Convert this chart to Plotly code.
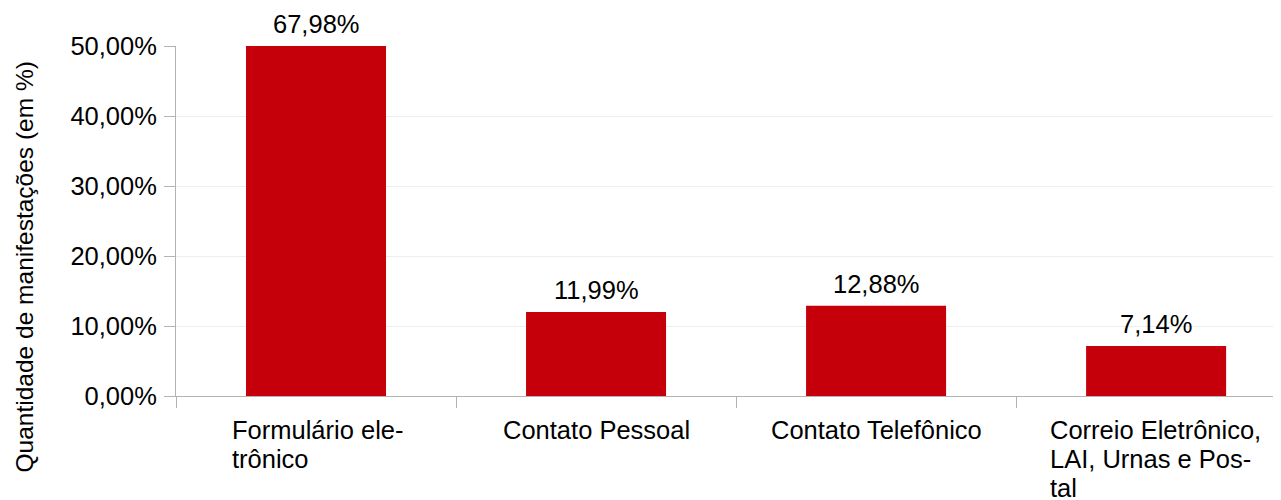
import plotly.graph_objects as go

# ---- data ----
categories = ["Formulário ele-<br>trônico", "Contato Pessoal", "Contato Telefônico",
              "Correio Eletrônico,<br>LAI, Urnas e Pos-<br>tal"]
values = [67.98, 11.99, 12.88, 7.14]
value_labels = ["67,98%", "11,99%", "12,88%", "7,14%"]
y_tickvals = [0, 10, 20, 30, 40, 50]
y_ticktext = ["0,00%", "10,00%", "20,00%", "30,00%", "40,00%", "50,00%"]
y_title = "Quantidade de manifestações (em %)"

# ---- style / layout ----
Y_MAX = 50
FONT = "Liberation Sans, Arial, sans-serif"
FS = 25.5
BAR_COLOR = "#c5000b"
AXIS_COLOR = "#b3b3b3"
GRID_COLOR = "#eeeeee"
LINE_STEP = 29            # px between wrapped label lines
LABEL_TOP = -18           # px below the x axis for first label line
# half widths (px) of the wrapped multi-line label blocks, for left alignment
BLOCK_HALF = {0: 86, 3: 108.5}

x = list(range(len(categories)))

fig = go.Figure()
fig.add_trace(go.Bar(
    x=x, y=values, width=0.5, marker=dict(color=BAR_COLOR, line=dict(width=0)),
    cliponaxis=True, hoverinfo="skip", showlegend=False,
))

annotations = []
for xi, v, lab in zip(x, values, value_labels):
    annotations.append(dict(
        x=xi, y=min(v, Y_MAX), xref="x", yref="y", text=lab, showarrow=False,
        yanchor="bottom", xanchor="center", yshift=6,
        font=dict(family=FONT, size=FS, color="#000000"),
    ))
for xi, cat in zip(x, categories):
    lines = cat.split("<br>")
    for j, line in enumerate(lines):
        a = dict(
            x=xi, y=0, xref="x", yref="paper", text=line, showarrow=False,
            yanchor="top", yshift=LABEL_TOP - j * LINE_STEP,
            font=dict(family=FONT, size=FS, color="#000000"),
        )
        if len(lines) > 1:
            a.update(xanchor="left", align="left", xshift=-BLOCK_HALF[xi])
        else:
            a.update(xanchor="center")
        annotations.append(a)
annotations.append(dict(
    x=-0.1367, y=0.370, xref="paper", yref="paper", text=y_title, showarrow=False,
    textangle=-90, xanchor="center", yanchor="middle",
    font=dict(family=FONT, size=24.5, color="#000000"),
))

fig.update_layout(
    width=1273, height=492,
    margin=dict(l=168, r=0, t=38, b=104, pad=0),
    paper_bgcolor="white", plot_bgcolor="white",
    font=dict(family=FONT, size=FS, color="#000000"),
    annotations=annotations,
    xaxis=dict(
        range=[-0.5, 3.446], tickmode="array",
        tickvals=[i - 0.5 for i in x], showticklabels=False,
        ticks="outside", ticklen=11, tickcolor=AXIS_COLOR, tickwidth=1,
        showline=True, linecolor=AXIS_COLOR, linewidth=1,
        showgrid=False, zeroline=False,
    ),
    yaxis=dict(
        range=[0, Y_MAX], tickmode="array", tickvals=y_tickvals, ticktext=y_ticktext,
        ticks="outside", ticklen=11, tickcolor=AXIS_COLOR, tickwidth=1,
        ticklabelstandoff=2,
        showline=True, linecolor=AXIS_COLOR, linewidth=1,
        showgrid=True, gridcolor=GRID_COLOR, gridwidth=1, zeroline=False,
        tickfont=dict(family=FONT, size=FS, color="#000000"),
    ),
)

fig.write_html("out.html")
